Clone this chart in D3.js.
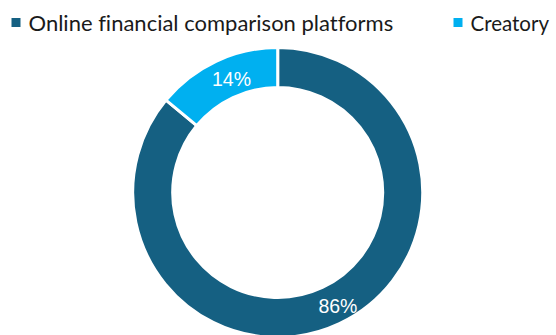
<!DOCTYPE html>
<html>
<head>
<meta charset="utf-8">
<script src="https://cdn.jsdelivr.net/npm/d3@7"></script>
<style>
  html, body { margin: 0; padding: 0; background: #fff; overflow: hidden; }
  svg { display: block; }
  .legend text { font-variant-ligatures: none; }
</style>
</head>
<body>
<svg id="chart" width="556" height="335"></svg>
<script>
// Share of sources
const categories = ["Online financial comparison platforms", "Creatory"];
const values = [86, 14];
const colors = ["#156082", "#00B0F0"];

const W = 556, H = 335;
const cx = 277.7, cy = 192.5;
const outerR = 145, innerR = 105;

const svg = d3.select("#chart");

const pie = d3.pie().sort(null).value(d => d.value);
const arcs = pie(categories.map((c, i) => ({ name: c, value: values[i], color: colors[i] })));

const arc = d3.arc().innerRadius(innerR).outerRadius(outerR);
const labelArc = d3.arc().innerRadius((innerR + outerR) / 2).outerRadius((innerR + outerR) / 2);

const g = svg.append("g").attr("transform", `translate(${cx},${cy})`);

g.selectAll("path.slice")
  .data(arcs)
  .join("path")
  .attr("class", "slice")
  .attr("d", arc)
  .attr("fill", d => d.data.color)
  .attr("stroke", "#fff")
  .attr("stroke-width", 3)
  .attr("stroke-linejoin", "miter");

const total = d3.sum(values);
g.selectAll("text.pct")
  .data(arcs)
  .join("text")
  .attr("class", "pct")
  .attr("transform", d => {
    const [x, y] = labelArc.centroid(d);
    return `translate(${x + 7},${y})`;
  })
  .attr("text-anchor", "middle")
  .attr("dominant-baseline", "central")
  .attr("font-family", "'Liberation Sans', Arial, sans-serif")
  .attr("font-size", 19.5)
  .attr("fill", "#fff")
  .text(d => d3.format(".0%")(d.data.value / total));

// Legend across the top
const legendItems = [
  { name: categories[0], color: colors[0], x: 11.5, size: 22 },
  { name: categories[1], color: colors[1], x: 453.5, size: 20.5 }
];
const legend = svg.append("g").attr("class", "legend");
const li = legend.selectAll("g.item").data(legendItems).join("g")
  .attr("class", "item")
  .attr("transform", d => `translate(${d.x},0)`);
li.append("rect")
  .attr("x", 0).attr("y", 18)
  .attr("width", 9).attr("height", 9)
  .attr("fill", d => d.color);
li.append("text")
  .attr("x", 17).attr("y", 30.5)
  .attr("font-family", "Lato, 'Open Sans', sans-serif")
  .attr("font-size", d => d.size)
  .attr("fill", "#1a1a1a")
  .text(d => d.name);
</script>
</body>
</html>
